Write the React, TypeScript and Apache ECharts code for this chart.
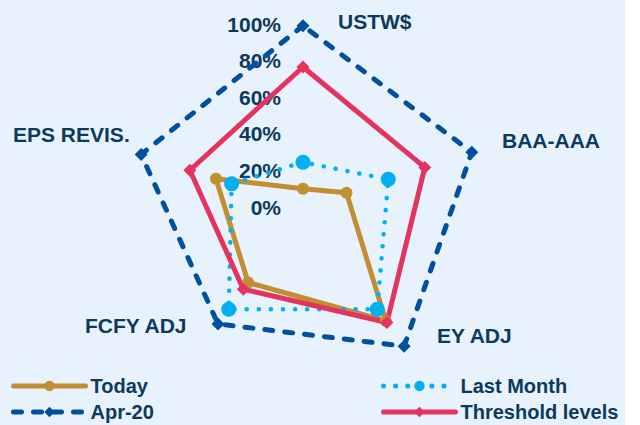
import React, { useEffect, useRef } from 'react';
import * as echarts from 'echarts';

// Indicators in clockwise order starting at the top
const categories = ['USTW$', 'BAA-AAA', 'EY ADJ', 'FCFY ADJ', 'EPS REVIS.'];
const seriesNames = ['Today', 'Last Month', 'Apr-20', 'Threshold levels'];
const today = [0.1, 0.25, 0.77, 0.51, 0.5];
const lastMonth = [0.245, 0.49, 0.69, 0.69, 0.41];
const apr20 = [0.99, 0.97, 0.94, 0.79, 0.93];
const threshold = [0.765, 0.7, 0.78, 0.555, 0.65];
const tickLabels = ['0%', '20%', '40%', '60%', '80%', '100%'];

const TEXT = '#0C3A5E';
const FONT = "'Liberation Sans', Arial, sans-serif";

const seriesStyles = [
  { color: '#C28E33', width: 5, type: 'solid' as any, symbol: 'circle', size: 12 },
  { color: '#00B0F0', width: 4.5, type: [0.1, 12] as any, symbol: 'circle', size: 15 },
  { color: '#0050A0', width: 5, type: [8, 12] as any, symbol: 'diamond', size: 13 },
  { color: '#E5335F', width: 5, type: 'solid' as any, symbol: 'diamond', size: 13 },
];

// name label placement (layout only)
const namePos = [
  { x: 338, y: 21 },
  { x: 502, y: 140 },
  { x: 437, y: 335 },
  { x: 85, y: 325 },
  { x: 13, y: 134 },
];

export default function App() {
  const ref = useRef<HTMLDivElement>(null);
  useEffect(() => {
    document.body.style.margin = '0';
    const chart = echarts.init(ref.current!, null, { renderer: 'svg' });
    // ECharts radar runs counter-clockwise: reorder to match clockwise layout
    const order = [0, 4, 3, 2, 1];
    const allValues = [today, lastMonth, apr20, threshold];
    const indicator = order.map((i, k) => ({
      name: categories[i],
      min: 0,
      max: 1,
      ...(k === 0
        ? {
            axisLabel: {
              show: true,
              color: TEXT,
              fontSize: 21,
              fontWeight: 'bold',
              fontFamily: FONT,
              margin: 22,
              formatter: (v: number) => tickLabels[Math.round(v * 5)] ?? '',
            },
          }
        : {}),
    }));

    const legendText = {
      color: TEXT,
      fontSize: 20,
      lineHeight: 20,
      fontWeight: 'bold',
      fontFamily: FONT,
    };
    const legendBase = {
      orient: 'vertical',
      top: 376,
      padding: 0,
      itemGap: 6,
      itemWidth: 72,
      itemHeight: 13,
      selectedMode: false,
      textStyle: legendText,
      lineStyle: { width: 5, cap: 'round' },
    };

    const option: any = {
      animation: false,
      backgroundColor: 'transparent',
      textStyle: { fontFamily: FONT },
      graphic: [
        {
          type: 'rect',
          z: -100,
          silent: true,
          shape: { x: 0, y: 0, width: 625, height: 425 },
          style: { fill: '#E7F2FC' },
        },
        ...categories.map((c, i) => ({
          type: 'text',
          x: namePos[i].x,
          y: namePos[i].y,
          silent: true,
          style: {
            text: c,
            fill: TEXT,
            font: `bold 21px ${FONT}`,
            textAlign: 'left',
            textVerticalAlign: 'middle',
          },
        })),
      ],
      radar: {
        center: [303, 207],
        radius: 183,
        startAngle: 90,
        splitNumber: 5,
        shape: 'polygon',
        axisName: { show: false },
        axisLine: { show: false },
        axisTick: { show: false },
        splitLine: { show: false },
        splitArea: { show: false },
        axisLabel: { show: false },
        indicator,
      },
      grid: { left: -200, top: -200, width: 10, height: 10, show: false },
      xAxis: { type: 'value', show: false },
      yAxis: { type: 'value', show: false },
      legend: [
        { ...legendBase, data: [seriesNames[0], seriesNames[2]], left: 11 },
        { ...legendBase, data: [seriesNames[1], seriesNames[3]], left: 381 },
      ],
      series: [
        {
          type: 'radar',
          data: allValues.map((vals, s) => ({
            name: seriesNames[s],
            value: order.map((i) => vals[i]),
            symbol: seriesStyles[s].symbol,
            symbolSize: seriesStyles[s].size,
            lineStyle: {
              color: seriesStyles[s].color,
              width: seriesStyles[s].width,
              type: seriesStyles[s].type,
              cap: 'round',
              join: 'round',
            },
            itemStyle: { color: seriesStyles[s].color },
          })),
        },
        ...seriesNames.map((n, s) => ({
          type: 'line',
          name: n,
          data: [],
          symbol: seriesStyles[s].symbol,
          symbolSize: seriesStyles[s].size,
          lineStyle: {
            color: seriesStyles[s].color,
            width: seriesStyles[s].width,
            type: seriesStyles[s].type,
            cap: 'round',
          },
          itemStyle: { color: seriesStyles[s].color },
        })),
      ],
    };
    chart.setOption(option);
    return () => chart.dispose();
  }, []);
  return <div ref={ref} style={{ width: 640, height: 425 }} />;
}
